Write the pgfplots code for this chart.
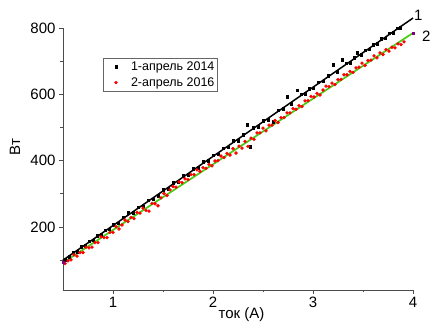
\documentclass[border=0pt]{standalone}
\usepackage{pgfplots}
\pgfplotsset{compat=1.18}
\usepackage{fontspec}
\setmainfont{Liberation Sans}
\definecolor{fitgreen}{RGB}{70,205,20}
\begin{document}
\begin{tikzpicture}
\path[use as bounding box] (-63bp,-38bp) rectangle (370bp,290bp);
\begin{axis}[
  at={(0,0)}, anchor=south west,
  scale only axis, width=350bp, height=262bp,
  xmin=0.5, xmax=4, ymin=10, ymax=800,
  axis x line*=bottom, axis y line*=left,
  axis line style={black!70, line width=0.9bp, -},
  tick align=outside, tick style={black!70, line width=0.8bp},
  major tick length=4bp, minor tick length=2.5bp,
  xtick={1,2,3,4}, minor xtick={1.5,2.5,3.5},
  ytick={200,400,600,800}, minor ytick={100,300,500,700},
  /pgf/number format/assume math mode=true,
  tick label style={font=\fontsize{15bp}{17bp}\selectfont},
  label style={font=\fontsize{15bp}{17bp}\selectfont},
  xlabel={ток (А)},
  xlabel style={at={(axis description cs:0.51,0)}, anchor=north, yshift=-14bp},
  ylabel={Вт},
  ylabel style={at={(axis description cs:-0.137,0.546)}, anchor=center, rotate=0},
  clip=false,
  legend style={at={(axis description cs:0.114,0.885)}, anchor=north west,
    draw=black!60, font=\fontsize{12.5bp}{14bp}\selectfont, inner xsep=1bp, inner ysep=1.5bp,
    row sep=1.5bp},
  legend cell align=left,
  legend image code/.code={\path[draw=none, fill=none] (0,-0.1cm) rectangle (0.88cm,0.1cm); \draw[#1] plot coordinates {(0.42cm,0cm)};},
]
\addplot[only marks, mark=square*, mark size=1.3bp, black] coordinates {
(0.52,101)(0.56,110)(0.60,124)(0.64,126)(0.68,140)(0.72,143)(0.76,157)(0.80,160)
(0.84,174)(0.88,176)(0.92,190)(0.96,193)(1.00,206)(1.05,211)(1.10,229)(1.15,243)
(1.20,243)(1.25,260)(1.30,263)(1.35,281)(1.40,284)(1.45,295)(1.50,312)(1.55,316)
(1.60,333)(1.65,337)(1.70,354)(1.75,357)(1.80,375)(1.85,378)(1.90,397)(1.95,399)
(2.00,417)(2.05,420)(2.10,438)(2.15,441)(2.20,460)(2.25,461)(2.30,479)(2.34,508)
(2.37,442)(2.40,500)(2.45,503)(2.50,521)(2.55,524)(2.60,517)(2.65,552)(2.70,556)
(2.74,592)(2.78,572)(2.84,613)(2.88,600)(2.92,601)(2.96,617)(3.00,618)(3.05,636)
(3.10,639)(3.15,657)(3.20,689)(3.24,668)(3.29,704)(3.33,694)(3.37,696)(3.41,711)
(3.44,725)(3.48,719)(3.52,733)(3.56,736)(3.60,750)(3.64,752)(3.68,767)(3.72,769)
(3.76,784)(3.80,786)(3.84,800)(3.87,801)
};
\addlegendentry{1-апрель 2014}
\addplot[only marks, mark=*, mark size=1.5bp, red] coordinates {
(0.52,90)(0.55,98)(0.58,101)(0.61,116)(0.64,112)(0.67,123)(0.70,123)(0.73,139)
(0.76,137)(0.79,139)(0.82,153)(0.85,153)(0.88,170)(0.91,168)(0.94,168)(0.97,184)
(1.00,184)(1.03,201)(1.06,194)(1.09,206)(1.12,221)(1.15,216)(1.18,229)(1.21,225)
(1.24,244)(1.27,242)(1.30,257)(1.33,250)(1.36,248)(1.39,271)(1.42,270)(1.45,264)
(1.48,288)(1.51,301)(1.54,295)(1.57,312)(1.60,322)(1.63,320)(1.66,336)(1.69,334)
(1.72,345)(1.75,343)(1.78,358)(1.81,358)(1.84,372)(1.87,368)(1.90,379)(1.93,377)
(1.96,389)(1.99,384)(2.02,399)(2.05,400)(2.08,414)(2.11,409)(2.14,422)(2.17,417)
(2.20,436)(2.23,423)(2.26,444)(2.29,438)(2.32,458)(2.35,443)(2.38,468)(2.41,464)
(2.44,484)(2.47,484)(2.50,498)(2.53,490)(2.56,507)(2.59,507)(2.62,521)(2.65,515)
(2.68,530)(2.71,530)(2.74,544)(2.77,544)(2.80,557)(2.83,555)(2.86,566)(2.89,563)
(2.92,580)(2.95,581)(2.98,594)(3.01,592)(3.04,603)(3.07,598)(3.10,613)(3.13,625)
(3.16,623)(3.19,634)(3.22,629)(3.25,644)(3.28,645)(3.31,659)(3.34,659)(3.37,669)
(3.40,666)(3.43,680)(3.46,682)(3.49,694)(3.52,687)(3.55,702)(3.58,703)(3.61,716)
(3.64,710)(3.67,725)(3.70,720)(3.73,735)(3.76,730)(3.79,742)(3.82,740)(3.85,752)
(3.88,750)(3.91,758)
};
\addlegendentry{2-апрель 2016}
\addplot[black, line width=1.5bp, forget plot] coordinates {(0.5,100)(4,830)};
\addplot[fitgreen, line width=1.7bp, forget plot] coordinates {(0.5,92)(4,785)};
\addplot[only marks, mark=square*, mark size=1.2bp, violet, forget plot] coordinates {(0.5,94)(4,785)};
\node[anchor=west, inner sep=0pt, font=\fontsize{15bp}{17bp}\selectfont] at (axis cs:4.01,838) {1};
\node[anchor=west, inner sep=0pt, font=\fontsize{15bp}{17bp}\selectfont] at (axis cs:4.09,776) {2};
\end{axis}
\end{tikzpicture}
\end{document}
